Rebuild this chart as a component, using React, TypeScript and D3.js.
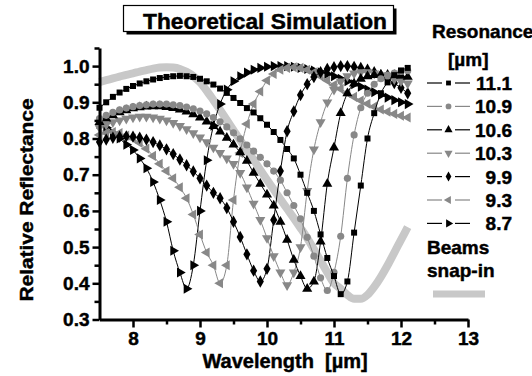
import React, { useRef, useEffect } from "react";
import * as d3 from "d3";

// wavelength grid shared by every simulated curve [µm]
const wavelengths = [
  7.5, 7.6, 7.7, 7.8, 7.9, 8.0, 8.1, 8.2, 8.3, 8.4,
  8.5, 8.6, 8.7, 8.8, 8.9, 9.0, 9.1, 9.2, 9.3, 9.4,
  9.5, 9.6, 9.7, 9.8, 9.9, 10.0, 10.1, 10.2, 10.3, 10.4,
  10.5, 10.6, 10.7, 10.8, 10.9, 11.0, 11.1, 11.2, 11.3, 11.4,
  11.5, 11.6, 11.7, 11.8, 11.9, 12.0, 12.1,
];

const resonances = ["11.1", "10.9", "10.6", "10.3", "9.9", "9.3", "8.7"];

const r111 = [
  0.885, 0.9, 0.915, 0.927, 0.937, 0.945, 0.952, 0.958, 0.963, 0.967,
  0.97, 0.972, 0.973, 0.972, 0.97, 0.965, 0.958, 0.949, 0.938, 0.926,
  0.912, 0.898, 0.884, 0.872, 0.856, 0.838, 0.818, 0.796, 0.771, 0.745,
  0.7, 0.65, 0.6, 0.535, 0.47, 0.42, 0.37, 0.405, 0.54, 0.67,
  0.8, 0.87, 0.925, 0.955, 0.975, 0.988, 0.995,
];
const r109 = [
  0.855, 0.864, 0.872, 0.879, 0.884, 0.888, 0.891, 0.893, 0.895, 0.895,
  0.895, 0.893, 0.891, 0.887, 0.882, 0.876, 0.868, 0.858, 0.846, 0.832,
  0.816, 0.799, 0.782, 0.765, 0.748, 0.73, 0.71, 0.685, 0.65, 0.615,
  0.578, 0.527, 0.475, 0.415, 0.38, 0.43, 0.53, 0.69, 0.81, 0.885,
  0.925, 0.95, 0.965, 0.975, 0.981, 0.985, 0.987,
];
const r106 = [
  0.845, 0.855, 0.864, 0.872, 0.878, 0.883, 0.886, 0.888, 0.889, 0.889,
  0.887, 0.884, 0.88, 0.874, 0.867, 0.858, 0.847, 0.834, 0.819, 0.802,
  0.783, 0.762, 0.738, 0.705, 0.675, 0.645, 0.615, 0.57, 0.52, 0.465,
  0.42, 0.385, 0.405, 0.515, 0.675, 0.775, 0.87, 0.925, 0.952, 0.965,
  0.972, 0.975, 0.976, 0.976, 0.975, 0.973, 0.97,
];
const r103 = [
  0.83, 0.838, 0.845, 0.85, 0.855, 0.858, 0.86, 0.86, 0.858, 0.855,
  0.85, 0.843, 0.835, 0.826, 0.815, 0.803, 0.79, 0.775, 0.76, 0.745,
  0.73, 0.705, 0.665, 0.62, 0.575, 0.525, 0.475, 0.43, 0.395, 0.43,
  0.5, 0.655, 0.77, 0.845, 0.9, 0.935, 0.958, 0.972, 0.98, 0.983,
  0.983, 0.98, 0.975, 0.97, 0.964, 0.958, 0.952,
];
const r99 = [
  0.79, 0.797, 0.802, 0.805, 0.806, 0.805, 0.802, 0.797, 0.79, 0.781,
  0.77, 0.757, 0.742, 0.726, 0.709, 0.69, 0.67, 0.65, 0.635, 0.608,
  0.57, 0.528, 0.48, 0.435, 0.405, 0.44, 0.575, 0.71, 0.82, 0.875,
  0.92, 0.95, 0.97, 0.983, 0.992, 0.997, 1.0, 1.0, 0.998, 0.995,
  0.99, 0.983, 0.975, 0.965, 0.953, 0.94, 0.925,
];
const r93 = [
  0.81, 0.815, 0.818, 0.815, 0.808, 0.8, 0.788, 0.772, 0.752, 0.73,
  0.71, 0.69, 0.665, 0.635, 0.59, 0.535, 0.485, 0.45, 0.4, 0.45,
  0.63, 0.76, 0.84, 0.895, 0.93, 0.96, 0.978, 0.99, 0.995, 0.997,
  0.995, 0.99, 0.982, 0.972, 0.96, 0.948, 0.937, 0.926, 0.915, 0.905,
  0.896, 0.888, 0.88, 0.874, 0.868, 0.863, 0.858,
];
const r87 = [
  0.84, 0.83, 0.815, 0.8, 0.783, 0.768, 0.745, 0.718, 0.68, 0.63,
  0.57, 0.49, 0.43, 0.385, 0.45, 0.6, 0.74, 0.835, 0.895, 0.935,
  0.958, 0.972, 0.982, 0.99, 0.995, 0.998, 1.0, 1.0, 1.0, 0.998,
  0.995, 0.992, 0.988, 0.983, 0.978, 0.972, 0.965, 0.958, 0.95, 0.943,
  0.935, 0.928, 0.92, 0.913, 0.906, 0.9, 0.895,
];
const beamsSnapIn = [
  0.956, 0.961, 0.966, 0.971, 0.976, 0.98, 0.985, 0.989, 0.993, 0.996,
  0.997, 0.996, 0.992, 0.984, 0.972, 0.955, 0.932, 0.906, 0.879, 0.851,
  0.823, 0.795, 0.768, 0.741, 0.713, 0.686, 0.659, 0.632, 0.606, 0.58,
  0.553, 0.525, 0.494, 0.462, 0.43, 0.4, 0.385, 0.368, 0.357, 0.357,
  0.368, 0.39, 0.418, 0.45, 0.485, 0.52, 0.555,
];

const xMajor = [8, 9, 10, 11, 12, 13];
const xMinor = [8.5, 9.5, 10.5, 11.5, 12.5];
const yMajor = [0.3, 0.4, 0.5, 0.6, 0.7, 0.8, 0.9, 1.0];
const yMinor = [0.35, 0.45, 0.55, 0.65, 0.75, 0.85, 0.95, 1.05];

const BLACK = "#000";
const GRAY = "#888";
const SNAP = "#c8c8c8";
const FONT = "'Liberation Sans', Arial, Helvetica, sans-serif";

const series = [
  { label: resonances[0], values: r111, color: BLACK, symbol: d3.symbolSquare, rot: 0, size: 36 },
  { label: resonances[1], values: r109, color: GRAY, symbol: d3.symbolCircle, rot: 0, size: 40 },
  { label: resonances[2], values: r106, color: BLACK, symbol: d3.symbolTriangle, rot: 0, size: 44 },
  { label: resonances[3], values: r103, color: GRAY, symbol: d3.symbolTriangle, rot: 180, size: 44 },
  { label: resonances[4], values: r99, color: BLACK, symbol: d3.symbolDiamond, rot: 0, size: 44 },
  { label: resonances[5], values: r93, color: GRAY, symbol: d3.symbolTriangle, rot: -90, size: 44 },
  { label: resonances[6], values: r87, color: BLACK, symbol: d3.symbolTriangle, rot: 90, size: 44 },
];

export default function App() {
  const ref = useRef<SVGSVGElement>(null);

  useEffect(() => {
    const width = 532, height = 376;
    const svg = d3.select(ref.current).attr("width", width).attr("height", height);
    svg.selectAll("*").remove();

    const x = d3.scaleLinear().domain([7.5, 13]).range([99.5, 468]);
    const y = d3.scaleLinear().domain([0.3, 1.05]).range([319.5, 48]);

    const heavy = (t: any, size: number) =>
      t.style("font-family", FONT).style("font-weight", 700).style("font-size", `${size}px`)
        .attr("fill", BLACK).attr("stroke", BLACK).attr("stroke-width", 0.45);

    // title box with drop shadow
    svg.append("rect").attr("x", 126.5).attr("y", 8.5).attr("width", 270).attr("height", 26).attr("fill", BLACK);
    svg.append("rect").attr("x", 123.5).attr("y", 5.5).attr("width", 270).attr("height", 26)
      .attr("fill", "#fff").attr("stroke", BLACK).attr("stroke-width", 1.2);
    heavy(svg.append("text").attr("x", 143).attr("y", 28.5), 22)
      .attr("textLength", 244).attr("lengthAdjust", "spacingAndGlyphs")
      .text("Theoretical Simulation");

    const plot = svg.append("g");

    const line = d3.line<number>()
      .x((_, i) => x(wavelengths[i]))
      .y(d => y(d))
      .curve(d3.curveMonotoneX);

    // beams snap-in (thick light gray, no markers)
    plot.append("path").attr("d", line(beamsSnapIn)).attr("fill", "none")
      .attr("stroke", SNAP).attr("stroke-width", 8).attr("stroke-linecap", "butt");

    // resonance curves, shortest resonance drawn first
    [...series].reverse().forEach(s => {
      const g = plot.append("g");
      g.append("path").attr("d", line(s.values)).attr("fill", "none")
        .attr("stroke", s.color).attr("stroke-width", 1);
      const sym = d3.symbol().type(s.symbol).size(s.size);
      g.selectAll("path.m").data(s.values).enter().append("path")
        .attr("class", "m")
        .attr("d", sym())
        .attr("fill", s.color)
        .attr("transform", (d, i) => `translate(${x(wavelengths[i])},${y(d)}) rotate(${s.rot})`);
    });

    // axes
    const styleAxis = (g: any) => {
      g.select(".domain").attr("stroke", BLACK).attr("stroke-width", 3);
      g.selectAll(".tick line").attr("stroke", BLACK).attr("stroke-width", 2.5);
      heavy(g.selectAll(".tick text"), 19);
    };

    const gx = svg.append("g").attr("transform", `translate(0,${y(0.3)})`);
    gx.call(d3.axisBottom(x).tickValues(xMajor).tickSize(8).tickSizeOuter(0).tickPadding(4).tickFormat(d3.format("d")));
    styleAxis(gx);
    const gxm = svg.append("g").attr("transform", `translate(0,${y(0.3)})`);
    gxm.call(d3.axisBottom(x).tickValues(xMinor).tickSize(5).tickSizeOuter(0).tickFormat(() => ""));
    gxm.select(".domain").remove();
    styleAxis(gxm);

    const gy = svg.append("g").attr("transform", `translate(${x(7.5)},0)`);
    gy.call(d3.axisLeft(y).tickValues(yMajor).tickSize(7).tickSizeOuter(0).tickPadding(3).tickFormat(d3.format(".1f")));
    styleAxis(gy);
    const gym = svg.append("g").attr("transform", `translate(${x(7.5)},0)`);
    gym.call(d3.axisLeft(y).tickValues(yMinor).tickSize(5).tickSizeOuter(0).tickFormat(() => ""));
    gym.select(".domain").remove();
    styleAxis(gym);

    // axis titles
    heavy(svg.append("text").attr("x", 285).attr("y", 368).attr("text-anchor", "middle"), 20)
      .style("white-space", "pre")
      .text("Wavelength  [µm]");
    heavy(svg.append("text").attr("transform", "translate(33,200) rotate(-90)").attr("text-anchor", "middle"), 19)
      .attr("textLength", 203).attr("lengthAdjust", "spacingAndGlyphs")
      .text("Relative Reflectance");

    // legend
    const lg = svg.append("g");
    heavy(lg.append("text").attr("x", 432).attr("y", 38), 19).text("Resonance");
    heavy(lg.append("text").attr("x", 448).attr("y", 66), 19).text("[µm]");
    series.forEach((s, i) => {
      const cy = 83 + i * 23.4;
      lg.append("line").attr("x1", 427).attr("x2", 442).attr("y1", cy).attr("y2", cy)
        .attr("stroke", s.color).attr("stroke-width", 1.2);
      lg.append("line").attr("x1", 455).attr("x2", 470).attr("y1", cy).attr("y2", cy)
        .attr("stroke", s.color).attr("stroke-width", 1.2);
      lg.append("path").attr("d", d3.symbol().type(s.symbol).size(s.size * 0.65)())
        .attr("fill", s.color).attr("transform", `translate(448.5,${cy}) rotate(${s.rot})`);
      heavy(lg.append("text").attr("x", 512).attr("y", cy + 7).attr("text-anchor", "end"), 19)
        .text(s.label);
    });
    heavy(lg.append("text").attr("x", 427).attr("y", 254), 19).text("Beams");
    heavy(lg.append("text").attr("x", 427).attr("y", 277), 19).text("snap-in");
    lg.append("line").attr("x1", 433).attr("x2", 485).attr("y1", 294).attr("y2", 294)
      .attr("stroke", SNAP).attr("stroke-width", 7);
  }, []);

  return (
    <svg ref={ref} style={{ position: "absolute", left: 0, top: 0, background: "#fff" }} />
  );
}
